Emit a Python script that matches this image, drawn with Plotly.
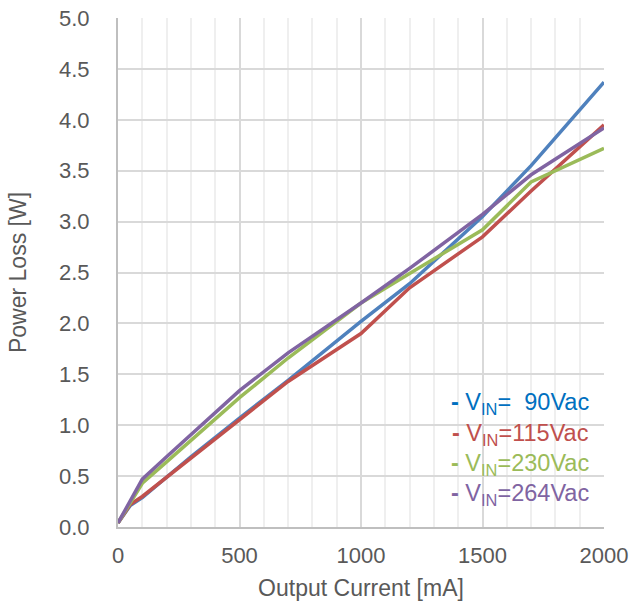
import plotly.graph_objects as go

current_ma = [0, 50, 100, 200, 300, 500, 700, 1000, 1200, 1500, 1700, 2000]
loss_90 = [0.04, 0.21, 0.29, 0.49, 0.69, 1.07, 1.44, 2.02, 2.39, 3.05, 3.55, 4.37]
loss_115 = [0.04, 0.22, 0.30, 0.49, 0.68, 1.06, 1.43, 1.90, 2.35, 2.85, 3.30, 3.95]
loss_230 = [0.04, 0.24, 0.43, 0.64, 0.85, 1.27, 1.66, 2.20, 2.49, 2.92, 3.39, 3.72]
loss_264 = [0.04, 0.26, 0.47, 0.69, 0.91, 1.34, 1.71, 2.20, 2.54, 3.07, 3.46, 3.92]

series = [
    ("90Vac", loss_90, "#4F81BD", "#0070C0", "&nbsp;&nbsp;90Vac"),
    ("115Vac", loss_115, "#C0504D", "#C0504D", "115Vac"),
    ("230Vac", loss_230, "#9BBB59", "#9BBB59", "230Vac"),
    ("264Vac", loss_264, "#8064A2", "#8064A2", "264Vac"),
]

fig = go.Figure()
for name, ys, col, _, _ in series:
    fig.add_trace(go.Scatter(x=current_ma, y=ys, mode="lines", name=name,
                             line=dict(color=col, width=3.5), showlegend=False))

font = "Liberation Sans, Arial, sans-serif"
ann_y = [403, 434, 464, 494]
for (name, ys, col, tcol, lbl), py in zip(series, ann_y):
    fig.add_annotation(xref="paper", yref="paper",
                       x=(591 - 118) / 486, y=(527 - py) / 509,
                       xanchor="right", yanchor="middle", showarrow=False,
                       text=f"<b>-</b> V<sub>IN</sub>={lbl}",
                       font=dict(family=font, size=23.5, color=tcol))

fig.update_layout(
    width=630, height=603,
    margin=dict(l=118, r=26, t=18, b=76),
    paper_bgcolor="white", plot_bgcolor="white",
    font=dict(family=font, size=22, color="#595959"),
    xaxis=dict(range=[0, 2000], tickvals=[0, 500, 1000, 1500, 2000],
               automargin=False,
               showgrid=True, gridcolor="#D9D9D9", gridwidth=2,
               minor=dict(dtick=100, showgrid=True, gridcolor="#EFEFEF", gridwidth=2),
               showline=True, linecolor="#BFBFBF", linewidth=2,
               zeroline=False, ticks="", ticklabelstandoff=8,
               tickfont=dict(size=22, color="#595959"),
               title=dict(text="Output Current [mA]", font=dict(size=23, color="#595959"), standoff=12)),
    yaxis=dict(range=[0, 5], dtick=0.5, tickformat=".1f",
               automargin=False,
               showgrid=True, gridcolor="#D9D9D9", gridwidth=2,
               showline=True, linecolor="#BFBFBF", linewidth=2,
               zeroline=False, ticks="", ticklabelstandoff=22,
               tickfont=dict(size=22, color="#595959"),
               title=dict(text="Power Loss [W]", font=dict(size=23, color="#595959"), standoff=26)),
)

fig.write_html("out.html")
